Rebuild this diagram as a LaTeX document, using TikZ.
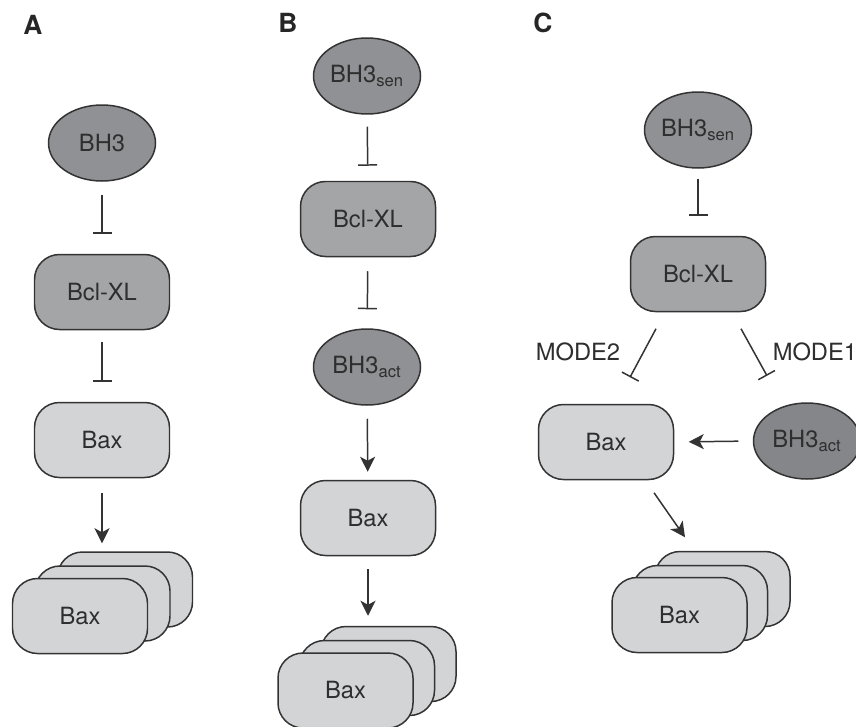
\documentclass[tikz,border=0pt]{standalone}
\usepackage{fontspec}
\setmainfont{TeX Gyre Heros}
\usetikzlibrary{arrows.meta,shapes.geometric}
\definecolor{grisfonce}{HTML}{909194}
\definecolor{grisact}{HTML}{85868A}
\definecolor{grismoyen}{HTML}{A4A5A7}
\definecolor{grisclair}{HTML}{D3D4D6}
\definecolor{trait}{HTML}{333333}
\definecolor{texte}{HTML}{2E2E2E}
\begin{document}
\begin{tikzpicture}[line width=0.85pt, draw=trait, text=texte, font=\fontsize{13.5}{16}\selectfont,
  bhthree/.style={ellipse, draw=trait, fill=grisfonce, minimum width=2.14cm, minimum height=1.52cm, inner sep=0pt},
  bclbox/.style={rectangle, rounded corners=0.5cm, draw=trait, fill=grismoyen, minimum width=2.7cm, minimum height=1.5cm},
  baxbox/.style={bclbox, fill=grisclair},
  inhib/.style={-{Bar[width=0.38cm]}, trait},
  act/.style={-{Stealth[length=0.3cm, width=0.3cm, inset=0.08cm]}, trait},
  panel/.style={font=\fontsize{15}{17}\selectfont\bfseries, text=black!85}]
\path[use as bounding box] (0,0) rectangle (17.12,-14.52); % cadre de l'image

% A
\node[panel] (labA) at (0.66,-0.5) {A};
\node[bhthree] (bhA) at (2.04,-2.86) {BH3};
\node[bclbox] (bclA) at (2.04,-5.84) {Bcl-XL};
\node[baxbox] (baxA) at (2.04,-8.8) {Bax};
\node[baxbox] (backA) at (2.5,-11.79) {};
\node[baxbox] (midA) at (2.05,-12.07) {};
\node[baxbox] (frontA) at (1.6,-12.32) {Bax};
\draw[inhib, shorten <=0.26cm, shorten >=0.4cm] (bhA) -- (bclA);
\draw[inhib, shorten <=0.24cm, shorten >=0.4cm] (bclA) -- (baxA);
\draw[act, shorten <=0.3cm, shorten >=0.16cm] (baxA.south) -- (baxA.south |- backA.north);

% B
\node[panel] (labB) at (5.76,-0.46) {B};
\node[bhthree] (senB) at (7.34,-1.52) {BH3\textsubscript{sen}};
\node[bclbox] (bclB) at (7.36,-4.38) {Bcl-XL};
\node[bhthree] (actB) at (7.34,-7.34) {BH3\textsubscript{act}};
\node[baxbox] (baxB) at (7.36,-10.36) {Bax};
\node[baxbox] (backB) at (7.77,-13.28) {};
\node[baxbox] (midB) at (7.34,-13.56) {};
\node[baxbox] (frontB) at (6.91,-13.81) {Bax};
\draw[inhib, shorten <=0.24cm, shorten >=0.3cm] (senB) -- (bclB);
\draw[inhib, shorten <=0.28cm, shorten >=0.38cm] (bclB) -- (actB);
\draw[act, shorten <=0.26cm, shorten >=0.16cm] (actB) -- (baxB);
\draw[act, shorten <=0.26cm, shorten >=0.2cm] (baxB.south) -- (baxB.south |- backB.north);

% C
\node[panel] (labC) at (10.86,-0.46) {C};
\node[bhthree] (senC) at (13.96,-2.6) {BH3\textsubscript{sen}};
\node[bclbox] (bclC) at (13.96,-5.48) {Bcl-XL};
\node[baxbox] (baxC) at (12.12,-8.84) {Bax};
\node[bhthree, fill=grisact] (actC) at (16.14,-8.82) {BH3\textsubscript{act}};
\node[baxbox] (backC) at (14.45,-11.78) {};
\node[baxbox] (midC) at (14.0,-12.06) {};
\node[baxbox] (frontC) at (13.59,-12.3) {Bax};
\node (modeB) at (11.56,-7.04) {MODE2};
\node[anchor=west, inner sep=0pt] (modeA) at (15.44,-7.04) {MODE1};
\draw[inhib, shorten <=0.2cm, shorten >=0.4cm] (senC) -- (bclC);
\draw[inhib] ([shift={(-0.84,-0.33)}]bclC.south) -- ([shift={(0.48,0.53)}]baxC.north);
\draw[inhib] ([shift={(0.86,-0.33)}]bclC.south) -- ([shift={(-0.8,0.53)}]actC.north);
\draw[act, shorten <=0.29cm, shorten >=0.29cm] (actC.west) -- (baxC.east);
\draw[act] ([shift={(0.96,-0.25)}]baxC.south) -- ([shift={(0.11,0.79)}]frontC.north);
\end{tikzpicture}
\end{document}
